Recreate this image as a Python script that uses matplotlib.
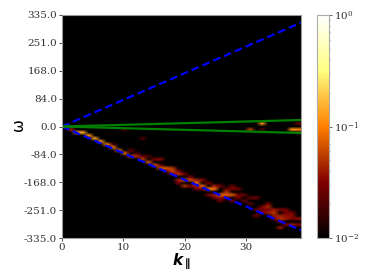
import numpy as np
import matplotlib
matplotlib.use("Agg")
import matplotlib.pyplot as plt
from matplotlib.colors import LogNorm

plt.rcParams['font.family'] = 'DejaVu Serif'
plt.rcParams['mathtext.fontset'] = 'dejavusans'

k_max = 39
omega_max = 335.0
omega_step = 9.0
omega_ticks = [-335.0, -251.0, -168.0, -84.0, 0.0, 84.0, 168.0, 251.0, 335.0]
k_ticks = [0, 10, 20, 30]

# bright cells along the lower branch
ridge_k = [1, 2, 3, 4, 5, 6, 7, 8, 9, 10, 11, 12, 13, 14, 15, 16, 17, 18, 19,
           20, 21, 22, 23, 24, 25, 26, 27, 28, 29, 30, 31, 32, 33, 34, 35, 36, 37, 38]
ridge_omega = [-9, -16, -24, -32, -40, -48, -56, -64, -71, -79, -88, -94, -102, -108, -118, -124, -131, -139, -148,
               -165, -168, -172, -180, -187, -190, -205, -205, -208, -222, -230, -240, -250, -262, -245, -265, -280, -285, -298]
ridge_value = [0.04, 0.11, 0.15, 0.12, 0.14, 0.12, 0.11, 0.1, 0.09, 0.08, 0.06, 0.045, 0.055, 0.07, 0.07, 0.07, 0.07, 0.06, 0.05,
               0.07, 0.06, 0.09, 0.08, 0.1, 0.09, 0.08, 0.07, 0.07, 0.03, 0.025, 0.025, 0.025, 0.03, 0.045, 0.05, 0.05, 0.04, 0.04]

# weaker cells spread around the branch and near omega = 0
side_k = [10, 11, 12, 15, 16, 17, 18, 19, 19, 20, 21, 22, 22, 23, 24, 25, 25, 26, 26, 27,
          28, 28, 29, 29, 30, 31, 32, 32, 33, 34, 34, 35, 35, 36, 36, 37, 37, 38, 38,
          31, 33, 33, 38, 39, 39, 10, 13, 8,
          14, 16, 18, 20, 21, 23, 24, 26, 27, 34, 35, 36, 37, 38,
          12, 13, 17, 19, 21, 22, 24, 25, 27, 28, 30, 33, 34, 36, 37, 38, 39, 39]
side_omega = [-13, -78, -80, -100, -105, -125, -130, -135, -160, -178, -155, -160, -185, -165, -195, -178, -205, -215, -226, -200,
              -195, -225, -193, -210, -228, -215, -215, -270, -245, -245, -265, -255, -275, -268, -305, -250, -272, -275, -300,
              -8, 8, -8, -8, -8, 8, -13, -40, -52,
              -95, -115, -150, -150, -178, -195, -175, -185, -190, -235, -280, -255, -262, -285,
              -85, -90, -140, -172, -185, -195, -205, -218, -215, -182, -210, -255, -255, -292, -295, -262, -280, -300]
side_value = [0.02, 0.025, 0.02, 0.03, 0.035, 0.04, 0.05, 0.03, 0.04, 0.05, 0.03, 0.04, 0.04, 0.035, 0.04, 0.04, 0.04, 0.035, 0.025, 0.05,
              0.03, 0.03, 0.03, 0.03, 0.02, 0.025, 0.03, 0.03, 0.03, 0.04, 0.04, 0.04, 0.04, 0.04, 0.04, 0.03, 0.035, 0.035, 0.03,
              0.06, 0.12, 0.02, 0.12, 0.1, 0.025, 0.02, 0.02, 0.02,
              0.02, 0.025, 0.03, 0.03, 0.03, 0.03, 0.03, 0.03, 0.025, 0.03, 0.03, 0.03, 0.03, 0.03,
              0.02, 0.025, 0.03, 0.03, 0.025, 0.03, 0.03, 0.025, 0.03, 0.025, 0.025, 0.03, 0.03, 0.03, 0.03, 0.03, 0.035, 0.03]

blue_slope = 8.0
green_slope = 0.5

spectrum = np.zeros((int(round(2 * omega_max / omega_step)) + 1, k_max + 1))
for k, w, v in zip(ridge_k + side_k, ridge_omega + side_omega, ridge_value + side_value):
    row = int(round((w + omega_max) / omega_step))
    spectrum[row, k] = max(spectrum[row, k], v)

fig = plt.figure(figsize=(3.74, 2.8), dpi=100)
ax = fig.add_axes([62 / 374, 1 - 238 / 280, 239 / 374, 223 / 280])
im = ax.imshow(np.clip(spectrum, 0.005, None), origin='lower', aspect='auto', cmap='afmhot',
               norm=LogNorm(vmin=0.01, vmax=1), interpolation='bilinear',
               extent=[0, k_max, -omega_max, omega_max])

k_line = np.array([0, k_max])
ax.plot(k_line, blue_slope * k_line, color='blue', lw=1.6, dashes=(3.5, 1.8))
ax.plot(k_line, -blue_slope * k_line, color='blue', lw=1.6, dashes=(3.5, 1.8))
ax.plot(k_line, green_slope * k_line, color='green', lw=1.6)
ax.plot(k_line, -green_slope * k_line, color='green', lw=1.6)
ax.set_xlim(0, k_max)
ax.set_ylim(-omega_max, omega_max)

ax.set_xticks(k_ticks)
ax.set_yticks(omega_ticks)
ax.set_yticklabels(['%.1f' % t for t in omega_ticks])
ax.tick_params(labelsize=7.5, length=2, width=0.7, color='#444444', labelcolor='#333333', pad=1.5)
ax.set_xlabel(r'$\boldsymbol{k}_{\mathbf{\parallel}}$', fontsize=11, labelpad=0)
ax.set_ylabel(r'$\mathrm{\omega}$', fontsize=11, labelpad=-2)
for s in ax.spines.values():
    s.set_color('#999999')

cax = fig.add_axes([317 / 374, 1 - 238 / 280, 12 / 374, 223 / 280])
cb = fig.colorbar(im, cax=cax)
cb.outline.set_edgecolor('#aaaaaa')
cb.ax.tick_params(labelsize=7.5, length=2, width=0.7, color='#666666', labelcolor='#333333', pad=1.5)
cb.ax.tick_params(which='minor', length=1, width=0.5, color='#666666')

fig.savefig('out.png', dpi=100)
